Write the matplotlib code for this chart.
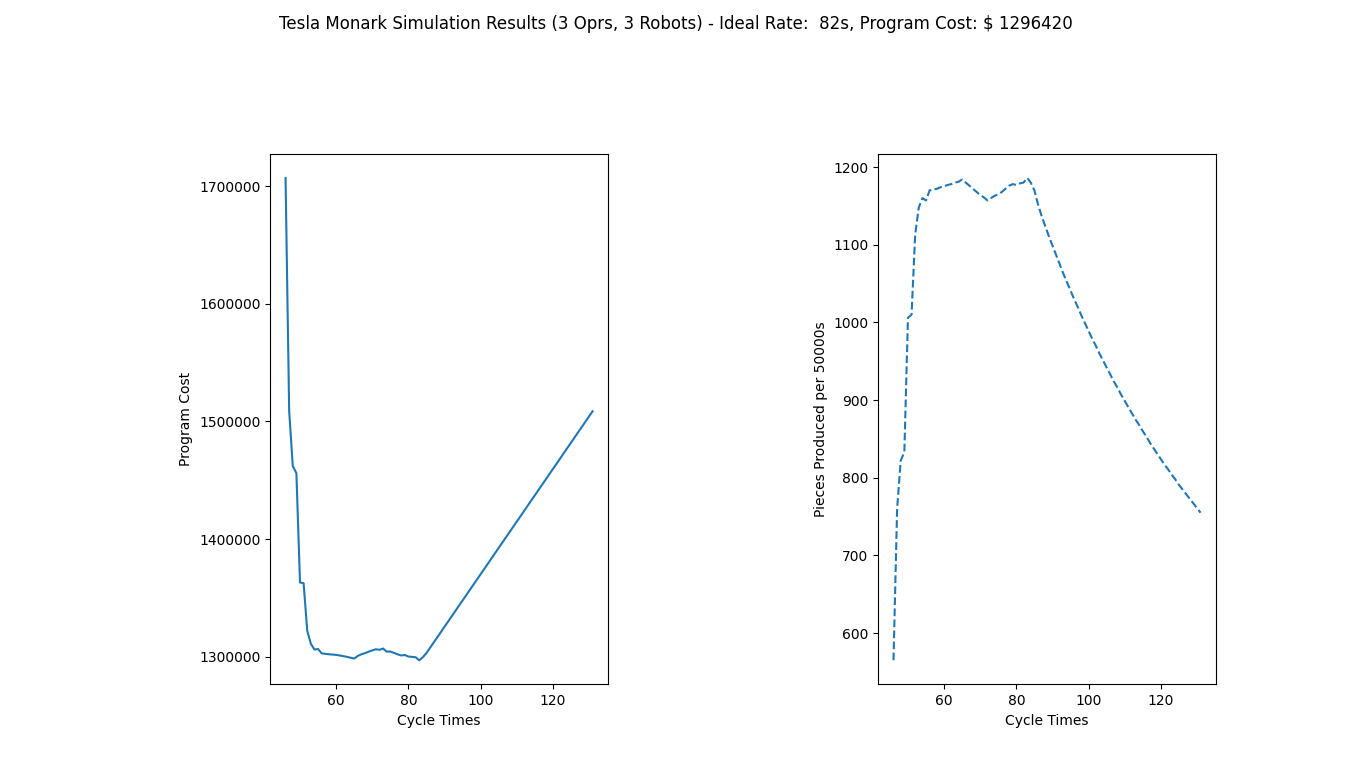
import matplotlib
matplotlib.use("Agg")
import matplotlib.pyplot as plt

# cycle times (s), shared by both panels
cycle_times = list(range(46, 132))

# program cost per cycle time
program_cost = [
    1707000, 1509000, 1462000, 1456000, 1363000, 1362500, 1322000, 1311000,
    1306000, 1306500, 1302800, 1302400, 1302000, 1301800, 1301500, 1301000,
    1300400, 1299800, 1299100, 1298400, 1300600, 1302000, 1303000, 1304200,
    1305300, 1306300, 1305800, 1306900, 1304200, 1304400, 1303200, 1302000,
    1301000, 1301400, 1300100, 1299800, 1299500, 1296900, 1299500, 1303000,
    1307500, 1312000, 1316400, 1320900, 1325400, 1329800, 1334300, 1338800,
    1343300, 1347700, 1352200, 1356700, 1361100, 1365600, 1370100, 1374500,
    1379000, 1383500, 1388000, 1392400, 1396900, 1401400, 1405800, 1410300,
    1414800, 1419200, 1423700, 1428200, 1432700, 1437100, 1441600, 1446100,
    1450500, 1455000, 1459500, 1463900, 1468400, 1472900, 1477400, 1481800,
    1486300, 1490800, 1495200, 1499700, 1504200, 1508600,
]

# pieces produced per 50000 s
pieces = [
    565, 760, 822, 833, 1006, 1010, 1113, 1148, 1160, 1157,
    1170, 1171, 1172, 1174, 1175, 1177, 1178, 1180, 1181, 1184,
    1180, 1176, 1172, 1168, 1164, 1161, 1157, 1160, 1163, 1165,
    1168, 1172, 1176, 1178, 1177, 1179, 1180, 1186, 1180, 1170,
    1152, 1137, 1124, 1111, 1099, 1087, 1075, 1063, 1052, 1041,
    1030, 1020, 1009, 999, 989, 979, 970, 960, 951, 942,
    933, 924, 916, 907, 899, 891, 883, 875, 868, 860,
    853, 845, 838, 831, 824, 817, 811, 804, 798, 791,
    785, 779, 773, 767, 761, 755,
]

title = ("Tesla Monark Simulation Results (3 Oprs, 3 Robots) - "
         "Ideal Rate:  82s, Program Cost: $ 1296420")

fig = plt.figure(figsize=(13.51, 7.69), dpi=100)
ax1 = fig.add_axes([0.2, 0.11, 0.25, 0.69])
ax2 = fig.add_axes([0.65, 0.11, 0.25, 0.69])

# left: cost curve
ax1.plot(cycle_times, program_cost, color='C0')
ax1.set_xlabel('Cycle Times')
ax1.set_ylabel('Program Cost')
ax1.ticklabel_format(axis='y', style='plain', useOffset=False)

# right: production, dashed
ax2.plot(cycle_times, pieces, '--', color='C0')
ax2.set_xlabel('Cycle Times')
ax2.set_ylabel('Pieces Produced per 50000s')

fig.suptitle(title, fontsize=12)

fig.savefig('out.png', dpi=100)
